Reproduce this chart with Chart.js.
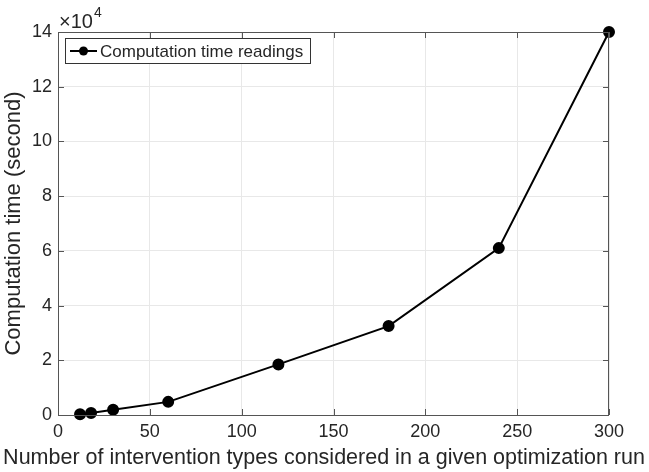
<!DOCTYPE html>
<html>
<head>
<meta charset="utf-8">
<script src="https://cdn.jsdelivr.net/npm/chart.js@4/dist/chart.umd.min.js"></script>
<style>
    html, body { margin: 0; padding: 0; background: #fff; }
    #wrap { width: 649px; height: 472px; }
</style>
</head>
<body>
<div id="wrap"><canvas id="timeChart"></canvas></div>
<script>
// Data
const interventionTypes = [12, 18, 30, 60, 120, 180, 240, 300];
const computationTime = [300, 700, 1900, 4800, 18500, 32500, 61000, 140000];
const xTicks = [0, 50, 100, 150, 200, 250, 300];
const yTicks = [0, 20000, 40000, 60000, 80000, 100000, 120000, 140000];
const xTitle = 'Number of intervention types considered in a given optimization run';

const FONT = '"Liberation Sans", Arial, Helvetica, sans-serif';
const TEXT = '#262626';
const AXIS = '#555555';

// MATLAB-like box: top/right edges, inward ticks, legend, x title and the x10^4 factor
const matlabBox = {
    id: 'matlabBox',
    afterDraw(chart) {
        const ctx = chart.ctx;
        const a = chart.chartArea;
        const xs = chart.scales.x, ys = chart.scales.y;
        ctx.save();
        ctx.strokeStyle = AXIS;
        ctx.lineWidth = 1;
        ctx.strokeRect(a.left + 0.5, a.top + 0.5, a.right - a.left - 1, a.bottom - a.top);

        // inward ticks on all four sides
        ctx.beginPath();
        xTicks.forEach(v => {
            const px = Math.round(xs.getPixelForValue(v)) + 0.5;
            ctx.moveTo(px, a.bottom); ctx.lineTo(px, a.bottom - 6);
            ctx.moveTo(px, a.top); ctx.lineTo(px, a.top + 6);
        });
        yTicks.forEach(v => {
            const py = Math.round(ys.getPixelForValue(v)) + 0.5;
            ctx.moveTo(a.left, py); ctx.lineTo(a.left + 6, py);
            ctx.moveTo(a.right, py); ctx.lineTo(a.right - 6, py);
        });
        ctx.stroke();

        // x axis title (drawn here so it isn't squeezed to the plot width)
        ctx.fillStyle = TEXT;
        ctx.font = '21.5px ' + FONT;
        ctx.textAlign = 'center';
        ctx.textBaseline = 'middle';
        ctx.fillText(xTitle, 324, 458);

        // exponent label
        ctx.textBaseline = 'alphabetic';
        ctx.textAlign = 'left';
        ctx.font = '20px ' + FONT;
        ctx.fillText('\u00d710', a.left + 1, a.top - 4);
        const w = ctx.measureText('\u00d710').width;
        ctx.font = '14px ' + FONT;
        ctx.fillText('4', a.left + 2 + w, a.top - 15);

        // legend box
        const lx = a.left + 7, ly = a.top + 6, lw = 245, lh = 25;
        ctx.fillStyle = '#fff';
        ctx.fillRect(lx, ly, lw, lh);
        ctx.strokeStyle = '#333';
        ctx.strokeRect(lx + 0.5, ly + 0.5, lw, lh);
        const my = ly + lh / 2 + 0.5;
        ctx.strokeStyle = '#000';
        ctx.lineWidth = 2;
        ctx.beginPath();
        ctx.moveTo(lx + 5, my); ctx.lineTo(lx + 32, my);
        ctx.stroke();
        ctx.fillStyle = '#000';
        ctx.beginPath();
        ctx.arc(lx + 18.5, my, 4.5, 0, Math.PI * 2);
        ctx.fill();
        ctx.fillStyle = TEXT;
        ctx.font = '17px ' + FONT;
        ctx.textBaseline = 'middle';
        ctx.fillText(chart.data.datasets[0].label, lx + 35, my + 1);
        ctx.restore();
    }
};

const ctx = document.getElementById('timeChart').getContext('2d');
const mainChart = new Chart(ctx, {
    type: 'line',
    data: {
        datasets: [{
            label: 'Computation time readings',
            data: interventionTypes.map((x, i) => ({ x: x, y: computationTime[i] })),
            borderColor: '#000',
            backgroundColor: '#000',
            borderWidth: 2,
            pointRadius: 5,
            pointHoverRadius: 5,
            pointBackgroundColor: '#000',
            tension: 0,
            clip: false
        }]
    },
    options: {
        responsive: true,
        maintainAspectRatio: false,
        animation: false,
        events: [],
        layout: { padding: { left: 0, right: 40, top: 32, bottom: 0 } },
        plugins: {
            legend: { display: false },
            tooltip: { enabled: false }
        },
        scales: {
            x: {
                type: 'linear',
                min: 0,
                max: 300,
                afterBuildTicks: s => { s.ticks = xTicks.map(v => ({ value: v })); },
                afterFit: s => { s.height = 57; },
                grid: { color: '#e8e8e8', drawTicks: false },
                border: { display: false },
                ticks: {
                    color: TEXT,
                    font: { family: FONT, size: 18 },
                    padding: 6,
                    maxRotation: 0
                }
            },
            y: {
                min: 0,
                max: 140000,
                afterBuildTicks: s => { s.ticks = yTicks.map(v => ({ value: v })); },
                afterFit: s => { s.width = 58; },
                grid: { color: '#e8e8e8', drawTicks: false },
                border: { display: false },
                ticks: {
                    color: TEXT,
                    font: { family: FONT, size: 18 },
                    padding: 6,
                    callback: v => String(v / 10000)
                },
                title: {
                    display: true,
                    text: 'Computation time (second)',
                    color: TEXT,
                    font: { family: FONT, size: 22 },
                    padding: 1
                }
            }
        }
    },
    plugins: [matlabBox]
});
</script>
</body>
</html>
